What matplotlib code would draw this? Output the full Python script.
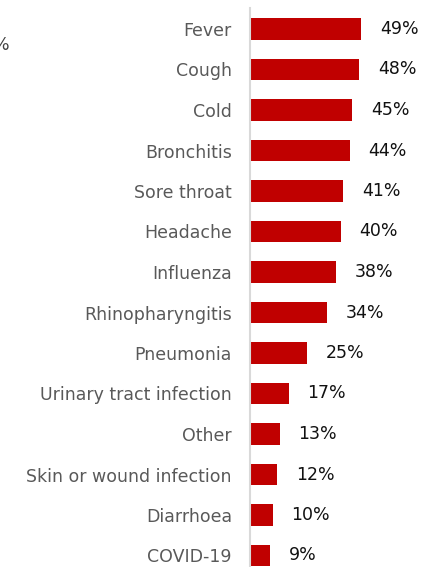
import matplotlib
matplotlib.use("Agg")
import matplotlib.pyplot as plt

categories = ["Fever", "Cough", "Cold", "Bronchitis", "Sore throat", "Headache",
              "Influenza", "Rhinopharyngitis", "Pneumonia", "Urinary tract infection",
              "Other", "Skin or wound infection", "Diarrhoea", "COVID-19"]
values = [49, 48, 45, 44, 41, 40, 38, 34, 25, 17, 13, 12, 10, 9]

plt.rcParams["font.family"] = ["DejaVu Sans"]

W, H = 434, 567
fig = plt.figure(figsize=(W / 100, H / 100), dpi=100)
ax = fig.add_axes([250 / W, 0, 184 / W, 1])

pos = list(range(len(categories)))
ax.barh(pos, values, height=0.54, color="#C00000")

ax.set_xlim(0, 184 / 2.27)
ax.set_ylim((H - 29) / 40.5, -29 / 40.5)

for p, v in zip(pos, values):
    ax.annotate(f"{v}%", (v, p), xytext=(13.5, 0), textcoords="offset points",
                ha="left", va="center", fontsize=12.5, color="#111111")

ax.set_yticks(pos)
ax.set_yticklabels(categories, fontsize=12.5, color="#595959")
ax.tick_params(axis="y", length=0, pad=13)
ax.set_xticks([])

for s in ["top", "right", "bottom"]:
    ax.spines[s].set_visible(False)
ax.spines["left"].set_color("#D9D9D9")
ax.spines["left"].set_linewidth(1.5)
ax.spines["left"].set_bounds(-21 / 40.5, (H - 29) / 40.5)

fig.text(-7 / W, 1 - 45 / H, "%", fontsize=12.5, color="#404040", ha="left", va="center")

fig.savefig("out.png", dpi=100)
